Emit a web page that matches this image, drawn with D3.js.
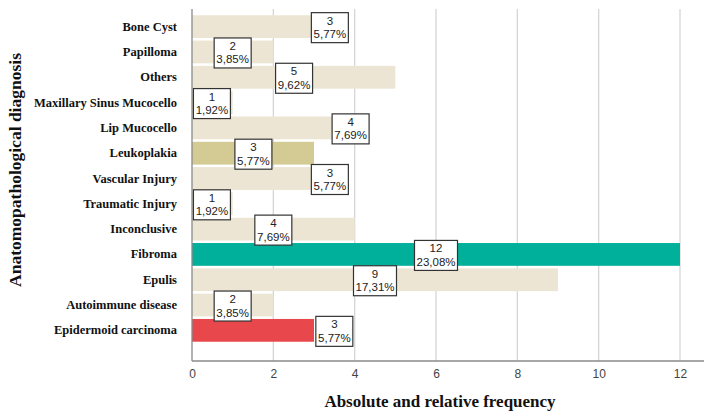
<!DOCTYPE html>
<html><head><meta charset="utf-8">
<script src="https://cdn.jsdelivr.net/npm/d3@7"></script>
<style>body{margin:0;background:#fff}svg{display:block}</style>
</head><body>
<script>
const categories = ["Bone Cyst","Papilloma","Others","Maxillary Sinus Mucocello","Lip Mucocello","Leukoplakia","Vascular Injury","Traumatic Injury","Inconclusive","Fibroma","Epulis","Autoimmune disease","Epidermoid carcinoma"];
const counts = [3,2,5,1,4,3,3,1,4,12,9,2,3];
const percents = ["5,77%","3,85%","9,62%","1,92%","7,69%","5,77%","5,77%","1,92%","7,69%","23,08%","17,31%","3,85%","5,77%"];
const labelAt = [3.39,1.0,2.51,0.49,3.9,1.51,3.39,0.49,2.0,6.0,4.5,1.0,3.5];
const barColors = ["#ece5d3","#ece5d3","#ece5d3","#ece5d3","#ece5d3","#d3cb93","#ece5d3","#ece5d3","#ece5d3","#00b09b","#ece5d3","#ece5d3","#e8484b"];
const xTicks = [0,2,4,6,8,10,12];

(function(){
const W=704,H=411;
const svg=d3.select("body").append("svg").attr("width",W).attr("height",H);
const x=d3.scaleLinear().domain([0,12]).range([192,680]);
const y=d3.scaleBand().domain(categories).range([14,343]).paddingInner(0.1).paddingOuter(0.05);
const plotTop=9,plotBottom=361;

svg.append("g").selectAll("line").data(xTicks.slice(1)).join("line")
  .attr("x1",d=>x(d)).attr("x2",d=>x(d)).attr("y1",plotTop).attr("y2",plotBottom)
  .attr("stroke","#d6d6d6").attr("stroke-width",1.3);

svg.append("g").selectAll("rect").data(categories).join("rect")
  .attr("x",x(0)).attr("y",d=>y(d)).attr("height",y.bandwidth())
  .attr("width",(d,i)=>x(counts[i])-x(0)).attr("fill",(d,i)=>barColors[i]);

svg.append("line").attr("x1",x(0)).attr("x2",x(0)).attr("y1",plotTop).attr("y2",plotBottom).attr("stroke","#8a8a8a").attr("stroke-width",1.3);
svg.append("line").attr("x1",x(0)).attr("x2",704).attr("y1",plotBottom).attr("y2",plotBottom).attr("stroke","#8a8a8a").attr("stroke-width",1.3);

const xa=svg.append("g").attr("transform",`translate(0,${plotBottom})`)
  .call(d3.axisBottom(x).tickValues(xTicks).tickSize(0).tickPadding(8).tickFormat(d3.format("d")));
xa.select(".domain").remove();
xa.selectAll("text").attr("font-family","Liberation Sans, Arial, sans-serif").attr("font-size",12).attr("fill","#444");

const ya=svg.append("g").attr("transform",`translate(${x(0)},0)`)
  .call(d3.axisLeft(y).tickSize(0).tickPadding(15));
ya.select(".domain").remove();
ya.selectAll("text").attr("font-family","Liberation Serif, Times New Roman, serif").attr("font-weight","bold").attr("font-size",12.5).attr("fill","#111");

const lb=svg.append("g").selectAll("g").data(categories).join("g")
  .attr("transform",(d,i)=>`translate(${x(labelAt[i])},${y(d)+y.bandwidth()/2+1})`);
lb.append("rect").attr("x",(d,i)=>percents[i].length>5?-21.5:-18.5).attr("y",-15)
  .attr("width",(d,i)=>percents[i].length>5?43:37).attr("height",30)
  .attr("fill","#fff").attr("stroke","#333").attr("stroke-width",1.2);
lb.append("text").attr("y",-3).attr("text-anchor","middle")
  .attr("font-family","Liberation Sans, Arial, sans-serif").attr("font-size",11.5).attr("fill","#222")
  .text((d,i)=>counts[i]);
lb.append("text").attr("y",10.5).attr("text-anchor","middle")
  .attr("font-family","Liberation Sans, Arial, sans-serif").attr("font-size",11.5).attr("fill","#222")
  .text((d,i)=>percents[i]);

svg.append("text").attr("x",440).attr("y",407).attr("text-anchor","middle")
  .attr("font-family","Liberation Serif, Times New Roman, serif").attr("font-weight","bold").attr("font-size",17).attr("fill","#111")
  .text("Absolute and relative frequency");
svg.append("text").attr("transform","translate(21,170) rotate(-90)").attr("text-anchor","middle")
  .attr("font-family","Liberation Serif, Times New Roman, serif").attr("font-weight","bold").attr("font-size",17.5).attr("fill","#111")
  .text("Anatomopathological diagnosis");
})();
</script>
</body></html>
